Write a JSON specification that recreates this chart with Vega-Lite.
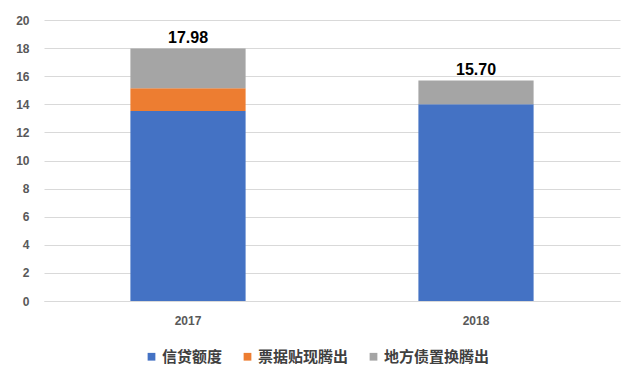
{
  "$schema": "https://vega.github.io/schema/vega-lite/v6.json",
  "autosize": "none",
  "width": 576,
  "height": 281,
  "padding": {"left": 44, "top": 20, "right": 20, "bottom": 84},
  "background": "white",
  "config": {
    "view": {"stroke": null},
    "font": "Noto Sans CJK SC"
  },
  "data": {
    "values": [
      {"year": "2017", "type": "信贷额度", "value": 13.52},
      {"year": "2017", "type": "票据贴现腾出", "value": 1.62},
      {"year": "2017", "type": "地方债置换腾出", "value": 2.84},
      {"year": "2018", "type": "信贷额度", "value": 14.0},
      {"year": "2018", "type": "票据贴现腾出", "value": 0},
      {"year": "2018", "type": "地方债置换腾出", "value": 1.70}
    ]
  },
  "encoding": {
    "x": {
      "field": "year", "type": "nominal",
      "scale": {"paddingInner": 0.6, "paddingOuter": 0.3},
      "axis": {"title": null, "labelAngle": 0, "ticks": false, "domainColor": "#d9d9d9", "labelFont": "Liberation Sans", "labelFontWeight": "bold", "labelFontSize": 12, "labelColor": "#595959", "labelPadding": 14}
    }
  },
  "resolve": {"axis": {"y": "independent"}},
  "layer": [
    {
      "transform": [{"calculate": "indexof(['信贷额度','票据贴现腾出','地方债置换腾出'], datum.type)", "as": "k"}],
      "mark": {"type": "bar"},
      "encoding": {
        "y": {
          "field": "value", "type": "quantitative", "aggregate": "sum",
          "scale": {"domain": [0, 20]},
          "axis": {"title": null, "values": [0,2,4,6,8,10,12,14,16,18,20], "labelOverlap": false, "domain": false, "ticks": false, "gridColor": "#d9d9d9", "labelFont": "Liberation Sans", "labelFontWeight": "bold", "labelFontSize": 12, "labelColor": "#595959", "labelPadding": 15}
        },
        "color": {
          "field": "type", "type": "nominal",
          "sort": ["信贷额度", "票据贴现腾出", "地方债置换腾出"],
          "scale": {"domain": ["信贷额度", "票据贴现腾出", "地方债置换腾出"], "range": ["#4472C4", "#ED7D31", "#A5A5A5"]},
          "legend": {"title": null, "orient": "none", "direction": "horizontal", "legendX": 100, "legendY": 329, "symbolType": "square", "symbolSize": 60, "symbolStrokeWidth": 0, "labelFontSize": 15, "labelFontWeight": "bold", "labelColor": "#404040", "columnPadding": 17, "symbolOffset": 0, "labelOffset": 3}
        },
        "order": {"field": "k", "type": "quantitative", "sort": "ascending"}
      }
    },
    {
      "transform": [{"aggregate": [{"op": "sum", "field": "value", "as": "total"}], "groupby": ["year"]}],
      "mark": {"type": "text", "dy": -10, "font": "Liberation Sans", "fontWeight": "bold", "fontSize": 16, "color": "#000000"},
      "encoding": {
        "y": {"field": "total", "type": "quantitative", "axis": null},
        "text": {"field": "total", "type": "quantitative", "format": ".2f"}
      }
    }
  ]
}
